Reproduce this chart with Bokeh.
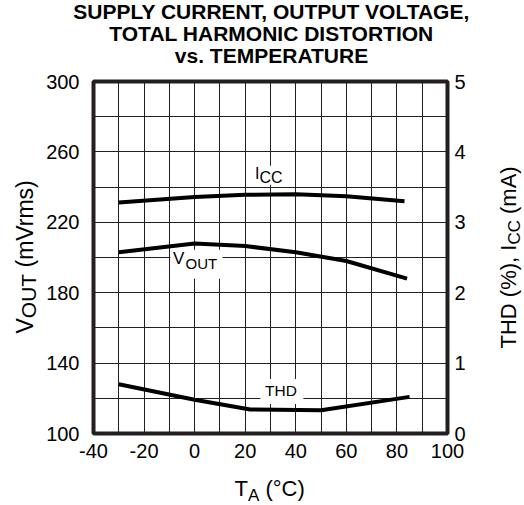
import math
from bokeh.plotting import figure
from bokeh.layouts import column, row
from bokeh.models import Range1d, LinearAxis, FixedTicker, Label, PrintfTickFormatter
from bokeh.embed import file_html
from bokeh.resources import INLINE

# ---- data ----
temp_ticks = [-40, -20, 0, 20, 40, 60, 80, 100]
temp_minor = [-40, -30, -20, -10, 0, 10, 20, 30, 40, 50, 60, 70, 80, 90, 100]
vout_ticks = [100, 140, 180, 220, 260, 300]
vout_minor = [100, 120, 140, 160, 180, 200, 220, 240, 260, 280, 300]
right_ticks = [0, 1, 2, 3, 4, 5]

vout_temp = [-30, 0, 20, 40, 60, 84]
vout_mv = [203, 208, 206.5, 203, 198, 188]

icc_temp = [-30, 0, 20, 40, 60, 83]
icc_ma = [3.28, 3.36, 3.39, 3.40, 3.37, 3.30]

thd_temp = [-30, 0, 22, 50, 85]
thd_pct = [0.70, 0.48, 0.34, 0.33, 0.52]

title_lines = ["SUPPLY CURRENT, OUTPUT VOLTAGE,", "TOTAL HARMONIC DISTORTION", "vs. TEMPERATURE"]

FONT = "Liberation Sans"
INK = "#231f20"

# ---- main chart ----
p = figure(width=450, height=400, x_range=Range1d(-40, 100), y_range=Range1d(100, 300),
           output_backend="svg", toolbar_location=None,
           min_border_left=53, min_border_right=43, min_border_top=11, min_border_bottom=37,
           background_fill_color="white", border_fill_color="white")
p.extra_y_ranges = {"right": Range1d(0, 5)}
p.add_layout(LinearAxis(y_range_name="right"), "right")

p.outline_line_color = INK
p.outline_line_width = 4
p.outline_line_alpha = 1.0

p.xaxis.ticker = FixedTicker(ticks=temp_ticks, minor_ticks=temp_minor)
p.xgrid.ticker = FixedTicker(ticks=temp_ticks, minor_ticks=temp_minor)
left_ax = p.left[0]
right_ax = p.right[0]
left_ax.ticker = FixedTicker(ticks=vout_ticks, minor_ticks=vout_minor)
p.ygrid.ticker = FixedTicker(ticks=vout_ticks, minor_ticks=vout_minor)
right_ax.ticker = FixedTicker(ticks=right_ticks)

for g in (p.xgrid[0], p.ygrid[0]):
    g.grid_line_color = INK
    g.grid_line_width = 1
    g.minor_grid_line_color = INK
    g.minor_grid_line_width = 1

for ax in (p.xaxis[0], left_ax, right_ax):
    ax.axis_line_color = None
    ax.major_tick_line_color = None
    ax.minor_tick_line_color = None
    ax.major_tick_out = 0
    ax.minor_tick_out = 0
    ax.major_tick_in = 0
    ax.minor_tick_in = 0
    ax.major_label_text_font = FONT
    ax.major_label_text_font_size = "20px"
    ax.major_label_text_color = "black"
    ax.formatter = PrintfTickFormatter(format="%d")
p.xaxis[0].major_label_standoff = 10
left_ax.major_label_standoff = 14
right_ax.major_label_standoff = 7

# white boxes behind in-plot labels
box_left = [23.7, -9.6, 26.0]
box_right = [35.5, 11.0, 43.0]
box_top = [252.2, 204.4, 131.0]
box_bottom = [241.4, 187.9, 116.8]
p.quad(left=box_left, right=box_right, top=box_top, bottom=box_bottom,
       fill_color="white", line_color=None)

p.line(vout_temp, vout_mv, line_color="black", line_width=4)
p.line(icc_temp, icc_ma, line_color="black", line_width=4, y_range_name="right")
p.line(thd_temp, thd_pct, line_color="black", line_width=4, y_range_name="right")

SHIFT = 0.3  # em correction between requested and drawn baseline


def lab(fig, text, x, y, size, bold=False, align="left", angle=0.0):
    fs = float(size.replace("px", ""))
    if angle:
        x = x - SHIFT * fs
    else:
        y = y - SHIFT * fs
    fig.add_layout(Label(x=x, y=y, x_units="canvas", y_units="canvas", text=text,
                         text_font=FONT, text_font_size=size,
                         text_font_style="bold" if bold else "normal",
                         text_color="black", text_align=align,
                         text_baseline="alphabetic", angle=angle))


def blank(w, h):
    f = figure(width=w, height=h, x_range=Range1d(0, 1), y_range=Range1d(0, 1),
               x_axis_location=None, y_axis_location=None, toolbar_location=None,
               output_backend="svg", min_border=0,
               background_fill_color="white", border_fill_color="white")
    f.outline_line_color = None
    f.grid.visible = False
    return f


# in-plot labels (canvas of main chart, baselines)
lab(p, "I", 214.5, 108, "16px")
lab(p, "CC", 219, 111.5, "16px")
lab(p, "V", 132.5, 193.5, "17px")
lab(p, "OUT", 145, 197.5, "15px")
lab(p, "THD", 224.5, 325, "15.5px")

# title
tfig = blank(524, 70)
for txt, yb in zip(title_lines, [17, 39, 61]):
    lab(tfig, txt, 271, yb, "21px", bold=True, align="center")

# left axis title (rotated)
a = math.pi / 2
lfig = blank(40, 400)
lab(lfig, "V", 31, 263, "23px", angle=a)
lab(lfig, "OUT", 34, 247.7, "21px", angle=a)
lab(lfig, "(mVrms)", 31, 197, "23px", angle=a)

# right axis title (rotated)
rfig = blank(34, 400)
lab(rfig, "THD (%), I", 25, 278, "22px", angle=a)
lab(rfig, "CC", 29, 278 - 103.9, "17px", angle=a)
lab(rfig, "(mA)", 25, 278 - 103.9 - 24.5 - 6.1, "22px", angle=a)

# bottom axis title
bfig = blank(524, 35)
lab(bfig, "T", 234, 25, "22px")
lab(bfig, "A", 247.5, 30, "17px")
lab(bfig, "(\u00b0C)", 264.9, 25, "22px")

layout = column(tfig, row(lfig, p, rfig), bfig)
open("out.html", "w").write(file_html(layout, INLINE))
